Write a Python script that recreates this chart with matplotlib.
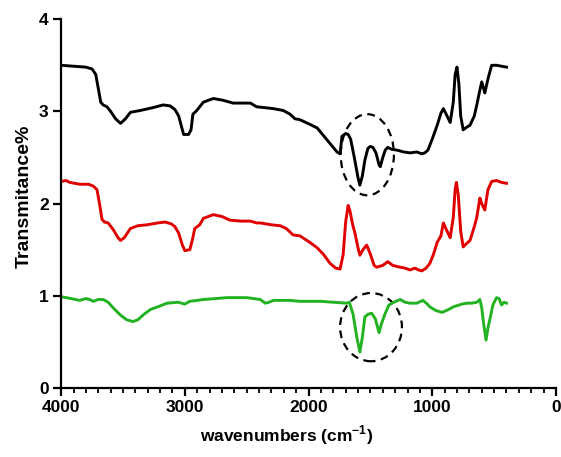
import matplotlib
matplotlib.use("Agg")
import matplotlib.pyplot as plt
from matplotlib.patches import Ellipse
from matplotlib.ticker import MultipleLocator

plt.rcParams['font.family'] = ['Liberation Sans', 'DejaVu Sans']
plt.rcParams['font.weight'] = 'bold'
plt.rcParams['mathtext.fontset'] = 'custom'
plt.rcParams['mathtext.bf'] = 'Liberation Sans:bold'
plt.rcParams['mathtext.rm'] = 'Liberation Sans:bold'

# black spectrum
wn_black = [4000, 3900, 3800, 3750, 3720, 3700, 3680, 3660, 3630, 3600, 3560, 3520, 3480, 3440,
            3360, 3260, 3175, 3120, 3080, 3050, 3030, 3010, 2970, 2950, 2935, 2910, 2880, 2850,
            2770, 2690, 2610, 2470, 2420, 2350, 2285, 2205, 2150, 2110, 2070, 1990, 1930, 1850,
            1770, 1745, 1730, 1700, 1680, 1660, 1630, 1600, 1585, 1565, 1545, 1520, 1500, 1480,
            1455, 1430, 1420, 1400, 1380, 1360, 1330, 1285, 1230, 1180, 1125, 1085, 1060, 1035,
            1000, 960, 930, 910, 880, 855, 830, 815, 800, 785, 770, 750, 720, 695, 660, 640, 620,
            600, 585, 575, 550, 520, 480, 440, 400]
t_black = [3.50, 3.49, 3.48, 3.46, 3.40, 3.25, 3.10, 3.07, 3.05, 3.00, 2.92, 2.87, 2.92, 2.99,
           3.01, 3.04, 3.07, 3.06, 3.02, 2.95, 2.85, 2.75, 2.75, 2.80, 2.97, 3.00, 3.05, 3.10,
           3.14, 3.12, 3.09, 3.09, 3.05, 3.04, 3.03, 3.01, 2.97, 2.92, 2.91, 2.86, 2.82, 2.69,
           2.56, 2.54, 2.73, 2.76, 2.75, 2.70, 2.50, 2.28, 2.20, 2.30, 2.47, 2.60, 2.62, 2.61,
           2.55, 2.42, 2.40, 2.50, 2.58, 2.61, 2.59, 2.58, 2.56, 2.55, 2.56, 2.54, 2.55, 2.58,
           2.70, 2.85, 2.98, 3.03, 2.95, 2.88, 3.10, 3.40, 3.48, 3.30, 2.95, 2.80, 2.83, 2.85,
           2.95, 3.07, 3.20, 3.32, 3.25, 3.20, 3.35, 3.50, 3.50, 3.49, 3.48]

# red spectrum
wn_red = [4000, 3960, 3930, 3850, 3780, 3740, 3710, 3690, 3670, 3650, 3620, 3580, 3540, 3520,
          3490, 3440, 3380, 3305, 3220, 3160, 3110, 3080, 3050, 3020, 3000, 2960, 2940, 2920,
          2880, 2850, 2770, 2700, 2635, 2550, 2470, 2420, 2390, 2300, 2230, 2180, 2125, 2070,
          1990, 1930, 1880, 1825, 1780, 1745, 1720, 1700, 1680, 1665, 1645, 1625, 1600, 1585,
          1560, 1530, 1500, 1470, 1450, 1400, 1360, 1320, 1260, 1220, 1180, 1140, 1110, 1085,
          1050, 1020, 990, 960, 930, 910, 880, 855, 830, 815, 805, 790, 770, 750, 720, 695, 660,
          640, 615, 600, 575, 550, 520, 480, 440, 400]
t_red = [2.24, 2.25, 2.23, 2.21, 2.21, 2.19, 2.15, 2.00, 1.83, 1.80, 1.79, 1.72, 1.63, 1.60,
         1.63, 1.73, 1.76, 1.77, 1.79, 1.80, 1.78, 1.75, 1.68, 1.55, 1.49, 1.50, 1.60, 1.73,
         1.77, 1.84, 1.88, 1.86, 1.82, 1.81, 1.81, 1.79, 1.79, 1.77, 1.76, 1.73, 1.66, 1.65,
         1.58, 1.52, 1.45, 1.35, 1.30, 1.29, 1.45, 1.80, 1.98, 1.92, 1.78, 1.68, 1.52, 1.44,
         1.50, 1.55, 1.45, 1.33, 1.31, 1.33, 1.37, 1.33, 1.31, 1.30, 1.28, 1.30, 1.28, 1.27,
         1.30, 1.35, 1.45, 1.58, 1.65, 1.79, 1.70, 1.63, 1.85, 2.15, 2.23, 2.10, 1.70, 1.53,
         1.57, 1.60, 1.75, 1.85, 2.06, 2.00, 1.93, 2.15, 2.24, 2.25, 2.23, 2.22]

# green spectrum
wn_green = [4000, 3920, 3850, 3800, 3770, 3740, 3700, 3660, 3620, 3580, 3520, 3470, 3420, 3380,
            3330, 3280, 3200, 3145, 3055, 3000, 2960, 2900, 2850, 2750, 2660, 2500, 2390, 2350,
            2320, 2285, 2150, 2070, 1990, 1900, 1800, 1690, 1670, 1640, 1610, 1585, 1565, 1545,
            1520, 1490, 1460, 1430, 1410, 1380, 1350, 1310, 1260, 1220, 1180, 1125, 1075, 1040,
            1020, 970, 920, 870, 830, 760, 720, 680, 640, 615, 600, 585, 565, 550, 530, 510, 480,
            460, 440, 420, 400]
t_green = [0.99, 0.97, 0.95, 0.97, 0.96, 0.94, 0.96, 0.96, 0.93, 0.87, 0.79, 0.74, 0.72, 0.74,
           0.80, 0.85, 0.89, 0.92, 0.93, 0.91, 0.94, 0.95, 0.96, 0.97, 0.98, 0.98, 0.96, 0.92,
           0.93, 0.95, 0.95, 0.94, 0.94, 0.94, 0.93, 0.92, 0.93, 0.80, 0.55, 0.39, 0.55, 0.77,
           0.80, 0.81, 0.75, 0.60, 0.70, 0.81, 0.90, 0.93, 0.96, 0.93, 0.92, 0.92, 0.95, 0.91,
           0.88, 0.84, 0.82, 0.85, 0.88, 0.91, 0.92, 0.92, 0.93, 0.96, 0.87, 0.70, 0.52, 0.65,
           0.77, 0.90, 0.98, 0.97, 0.90, 0.93, 0.92]

# dashed ellipses: (center wn, center T, width, height)
ellipses = [(1525, 2.53, 430, 0.88), (1495, 0.66, 500, 0.74)]

fig = plt.figure(figsize=(5.61, 4.57), dpi=100)
ax = fig.add_axes([0.109, 0.151, 0.882, 0.807])

lw = 2.1
ax.plot(wn_black, t_black, color='black', lw=lw)
ax.plot(wn_red, t_red, color='#e00000', lw=lw)
ax.plot(wn_green, t_green, color='#22b222', lw=lw)

for cx, cy, w, h in ellipses:
    ax.add_patch(Ellipse((cx, cy), w, h, fill=False, ls=(0, (3.5, 2.5)), lw=1.6, color='black'))

ax.set_xlim(4000, 0)
ax.set_ylim(0, 4)
ax.xaxis.set_major_locator(MultipleLocator(1000))
ax.xaxis.set_minor_locator(MultipleLocator(100))
ax.yaxis.set_major_locator(MultipleLocator(1))

for s in ['top', 'right']:
    ax.spines[s].set_visible(False)
for s in ['left', 'bottom']:
    ax.spines[s].set_linewidth(1.6)
ax.tick_params(which='major', length=6, width=1.6, labelsize=12.5, pad=3)
ax.tick_params(which='minor', length=3.5, width=1.3)

ax.set_xlabel(r'wavenumbers (cm$^{\mathbf{-1}}$)', fontsize=12.5, fontweight='bold', va='center')
ax.set_ylabel('Transmitance%', fontsize=14, fontweight='bold', va='center')
ax.xaxis.set_label_coords(0.455, -0.127)
ax.yaxis.set_label_coords(-0.075, 0.52)

fig.savefig('out.png', dpi=100)
